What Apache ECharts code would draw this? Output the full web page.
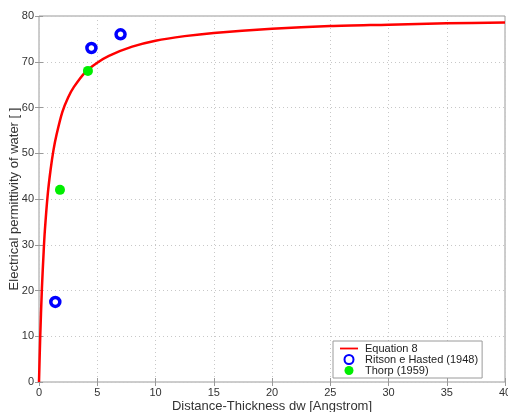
<!DOCTYPE html>
<html>
<head>
<meta charset="utf-8">
<script src="https://cdn.jsdelivr.net/npm/echarts@6/dist/echarts.min.js"></script>
<style>
  html, body { margin: 0; padding: 0; background: #fff; }
  #chart { width: 508px; height: 412px; }
</style>
</head>
<body>
<div id="chart"></div>
<script>
// curve
let curveX = [0, 0.1, 0.25, 0.4, 0.5, 0.75, 1, 1.25, 1.5, 2, 2.5, 3, 4, 5, 6, 8, 10, 12.5, 15, 20, 25, 30, 35, 40];
let curveY = [0, 9.5, 20.5, 28.5, 33, 41, 46.5, 50.8, 54, 59, 62.2, 64.5, 67.8, 69.8, 71.3, 73.3, 74.6, 75.6, 76.3, 77.2, 77.8, 78.1, 78.4, 78.6];

// measured points
let ritsonX = [1.4, 4.5, 7.0];
let ritsonY = [17.5, 73, 76];
let thorpX = [1.8, 4.2];
let thorpY = [42, 68];

let zip = (xs, ys) => xs.map((x, i) => [x, ys[i]]);

let chart = echarts.init(document.getElementById('chart'));

let gridLine = { show: true, lineStyle: { color: '#c8c8c8', type: [1, 3], width: 1 } };
let font = 'Liberation Sans, Arial, sans-serif';

let option = {
  animation: false,
  textStyle: { fontFamily: font },
  grid: {
    left: 39, right: 3, top: 16, bottom: 30,
    outerBoundsMode: 'none', containLabel: false,
    show: true, borderColor: '#9a9a9a', borderWidth: 1
  },
  legend: {
    orient: 'vertical',
    left: 333,
    bottom: 34,
    backgroundColor: '#fff',
    borderColor: '#9a9a9a',
    borderWidth: 1,
    padding: [2, 4, 2, 7],
    itemGap: 0,
    itemWidth: 18,
    itemHeight: 9,
    textStyle: { fontSize: 11, color: '#222', fontFamily: font, padding: [0, 0, 0, 2] },
    data: [
      { name: 'Equation 8', icon: 'path://M0,4h20v2h-20z' },
      { name: 'Ritson e Hasted (1948)' },
      { name: 'Thorp (1959)' }
    ]
  },
  xAxis: [{
    type: 'value', min: 0, max: 40, interval: 5,
    name: 'Distance-Thickness dw [Angstrom]',
    nameLocation: 'middle', nameGap: 18, nameMoveOverlap: false,
    nameTextStyle: { fontSize: 13, color: '#333', verticalAlign: 'top' },
    axisLine: { show: false },
    axisTick: { inside: true, length: 4, lineStyle: { color: '#9a9a9a' } },
    axisLabel: { fontSize: 11, color: '#333', margin: 5 },
    splitLine: gridLine
  }, {
    type: 'value', min: 0, max: 40, interval: 5, position: 'top',
    axisLine: { show: false },
    axisTick: { inside: true, length: 4, lineStyle: { color: '#9a9a9a' } },
    axisLabel: { show: false },
    splitLine: { show: false }
  }],
  yAxis: [{
    type: 'value', min: 0, max: 80, interval: 10,
    name: 'Electrical permittivity of water [ ]',
    nameLocation: 'middle', nameGap: 18, nameMoveOverlap: false,
    nameTextStyle: { fontSize: 13, color: '#333', verticalAlign: 'bottom' },
    axisLine: { show: false },
    axisTick: { inside: true, length: 4, lineStyle: { color: '#9a9a9a' } },
    axisLabel: { fontSize: 11, color: '#333', margin: 5 },
    splitLine: gridLine
  }, {
    type: 'value', min: 0, max: 80, interval: 10, position: 'right',
    axisLine: { show: false },
    axisTick: { inside: true, length: 4, lineStyle: { color: '#9a9a9a' } },
    axisLabel: { show: false },
    splitLine: { show: false }
  }],
  series: [{
    name: 'Equation 8',
    type: 'line',
    smooth: 0.3,
    showSymbol: false,
    data: zip(curveX, curveY),
    itemStyle: { color: '#ff0000' },
    lineStyle: { color: '#ff0000', width: 2.5 },
    z: 2
  }, {
    name: 'Ritson e Hasted (1948)',
    type: 'scatter',
    symbolSize: 9,
    data: zip(ritsonX, ritsonY),
    itemStyle: { color: '#ffffff', borderColor: '#0000ff', borderWidth: 3.5, opacity: 1 },
    z: 3
  }, {
    name: 'Thorp (1959)',
    type: 'scatter',
    symbolSize: 10,
    data: zip(thorpX, thorpY),
    itemStyle: { color: '#00ee00', opacity: 1 },
    z: 3
  }]
};

chart.setOption(option);
</script>
</body>
</html>
